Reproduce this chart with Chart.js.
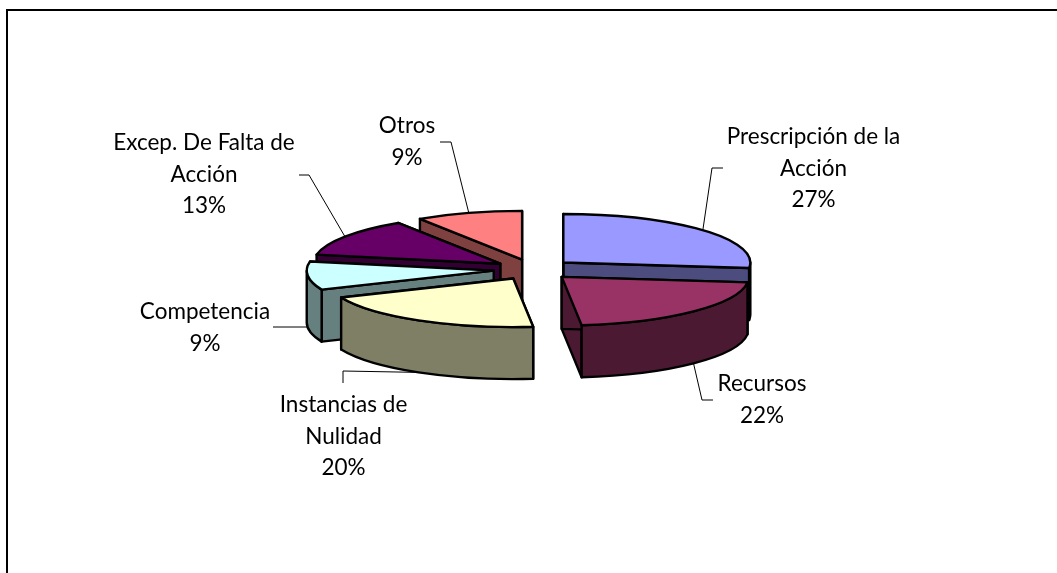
<!DOCTYPE html>
<html>
<head>
<meta charset="utf-8">
<title>Pie 3D</title>
<script src="https://cdn.jsdelivr.net/npm/chart.js@4"></script>
<style>
    html, body { margin: 0; padding: 0; background: #ffffff; overflow: hidden; }
    canvas { display: block; }
</style>
</head>
<body>
<canvas id="pieChart" width="1057" height="573"></canvas>
<script>
const categories = [
    ["Prescripción de la", "Acción"],
    ["Recursos"],
    ["Instancias de", "Nulidad"],
    ["Competencia"],
    ["Excep. De Falta de", "Acción"],
    ["Otros"]
];
// shares, they round to the printed percentages
const sliceValues = [26.8, 21.5, 20.3, 9.4, 12.8, 9.2];
const sliceColors = ["#9999ff", "#993366", "#ffffcc", "#ccffff", "#660066", "#ff8080"];
const wallColors = ["#4c4c7f", "#4c1933", "#7f7f66", "#667f7f", "#330033", "#7f4040"];

// label text placement (center x, middle of first line y) and leader line elbows
const labelX = [813.5, 762, 343.5, 205, 204, 407];
const labelY = [137, 384, 405, 312, 143, 126];
const leaderElbows = [
    [[712, 168], [723, 168]],
    [[702, 400], [713, 400]],
    [[343, 371], [343, 383]],
    [[308, 327], [273, 327]],
    [[309, 175], [299, 175]],
    [[451, 142], [440, 142]]
];

const squash = 0.26;
const explode = 40;
const wallDepth = 52;
const lineHeight = 31.5;
const labelFont = "22.5px Lato";

// apex of the exploded slice on the squashed plane
function sliceCenter(arc) {
    const mid = (arc.startAngle + arc.endAngle) / 2;
    return {
        x: arc.x + Math.cos(mid) * explode,
        y: arc.y + Math.sin(mid) * explode * squash
    };
}

function rimPoint(center, arc, angle) {
    return {
        x: center.x + Math.cos(angle) * arc.outerRadius,
        y: center.y + Math.sin(angle) * arc.outerRadius * squash
    };
}

function paintPath(ctx, fill) {
    ctx.fillStyle = fill;
    ctx.fill();
    ctx.stroke();
}

function drawRadialWall(ctx, center, arc, angle, fill) {
    const rim = rimPoint(center, arc, angle);
    ctx.beginPath();
    ctx.moveTo(center.x, center.y);
    ctx.lineTo(rim.x, rim.y);
    ctx.lineTo(rim.x, rim.y + wallDepth);
    ctx.lineTo(center.x, center.y + wallDepth);
    ctx.closePath();
    paintPath(ctx, fill);
}

function drawOuterWall(ctx, center, arc, fill) {
    // only the front half of the rim can be seen
    const twoPi = Math.PI * 2;
    let from = arc.startAngle;
    let to = arc.endAngle;
    while (from < 0) {
        from += twoPi;
        to += twoPi;
    }
    const ranges = [[from, Math.min(to, Math.PI)], [twoPi, Math.min(to, twoPi + Math.PI)]];
    ranges.forEach(function (range) {
        if (range[1] <= range[0]) {
            return;
        }
        const ry = arc.outerRadius * squash;
        ctx.beginPath();
        ctx.ellipse(center.x, center.y, arc.outerRadius, ry, 0, range[0], range[1]);
        ctx.ellipse(center.x, center.y + wallDepth, arc.outerRadius, ry, 0, range[1], range[0], true);
        ctx.closePath();
        paintPath(ctx, fill);
    });
}

function drawTopFace(ctx, center, arc, fill) {
    ctx.beginPath();
    ctx.moveTo(center.x, center.y);
    ctx.ellipse(center.x, center.y, arc.outerRadius, arc.outerRadius * squash, 0, arc.startAngle, arc.endAngle);
    ctx.closePath();
    paintPath(ctx, fill);
}

function drawLabel(ctx, arc, index) {
    const center = sliceCenter(arc);
    const mid = (arc.startAngle + arc.endAngle) / 2;
    const rim = rimPoint(center, arc, mid);
    const anchorY = Math.sin(mid) > 0 ? rim.y + wallDepth : rim.y;

    ctx.strokeStyle = "#000000";
    ctx.lineWidth = 1;
    ctx.beginPath();
    ctx.moveTo(rim.x, anchorY);
    leaderElbows[index].forEach(function (point) {
        ctx.lineTo(point[0], point[1]);
    });
    ctx.stroke();

    const lines = categories[index].concat(Math.round(sliceValues[index]) + "%");
    ctx.fillStyle = "#000000";
    ctx.font = labelFont;
    ctx.textAlign = "center";
    ctx.textBaseline = "middle";
    lines.forEach(function (line, n) {
        ctx.fillText(line, labelX[index], labelY[index] + n * lineHeight);
    });
}

const pie3dPlugin = {
    id: "pie3d",
    beforeDraw: function (chart) {
        // frame of the original only shows at the top and on the left
        const ctx = chart.ctx;
        ctx.save();
        ctx.fillStyle = "#000000";
        ctx.fillRect(6, 9, chart.width - 6, 2);
        ctx.fillRect(6, 9, 2, chart.height - 9);
        ctx.restore();
    },
    beforeDatasetDraw: function (chart, args) {
        const ctx = chart.ctx;
        const arcs = args.meta.data;
        const order = arcs.map(function (arc, i) { return i; });
        order.sort(function (a, b) {
            return sliceCenter(arcs[a]).y - sliceCenter(arcs[b]).y;
        });

        ctx.save();
        // leader lines sit under the slices
        arcs.forEach(function (arc, i) {
            drawLabel(ctx, arc, i);
        });
        ctx.lineJoin = "round";
        order.forEach(function (i) {
            const arc = arcs[i];
            const center = sliceCenter(arc);
            ctx.strokeStyle = "#000000";
            ctx.lineWidth = 2.4;
            drawRadialWall(ctx, center, arc, arc.endAngle, wallColors[i]);
            drawRadialWall(ctx, center, arc, arc.startAngle, wallColors[i]);
            drawOuterWall(ctx, center, arc, wallColors[i]);
            drawTopFace(ctx, center, arc, arc.options.backgroundColor);
        });
        ctx.restore();
        return false;
    }
};

const ctx = document.getElementById("pieChart").getContext("2d");
const chartObject = new Chart(ctx, {
    type: "pie",
    data: {
        labels: categories,
        datasets: [{
            data: sliceValues,
            backgroundColor: sliceColors,
            borderWidth: 0
        }]
    },
    options: {
        responsive: false,
        animation: false,
        events: [],
        radius: 187,
        layout: { padding: { left: 10, right: 0, top: 0, bottom: 34 } },
        plugins: {
            legend: { display: false },
            tooltip: { enabled: false }
        }
    },
    plugins: [pie3dPlugin]
});
</script>
</body>
</html>
